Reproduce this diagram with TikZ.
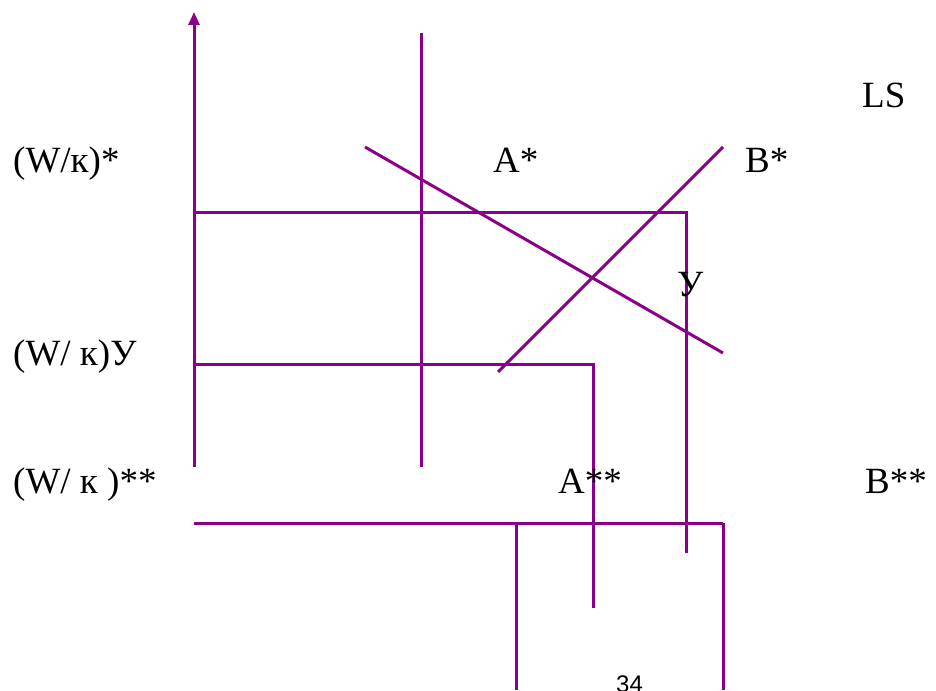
\documentclass[tikz,border=0pt]{standalone}
\usepackage{fontspec}
\setmainfont{Liberation Serif}
\usetikzlibrary{arrows.meta}
\definecolor{lnc}{RGB}{139,0,139}
\tikzset{
  ln/.style={draw=lnc, line width=3pt},
  lbl/.style={anchor=base west, inner sep=0pt, font=\fontsize{37}{42}\selectfont},
}
\begin{document}
\begin{tikzpicture}[x=1pt,y=-1pt]
\useasboundingbox (0,0) rectangle (936,690);
% axis
\draw[ln,-{Triangle[length=13pt,width=11pt]}] (194,467) -- (194,12);
\draw[ln] (421,33) -- (421,467);
% crossing lines
\draw[ln] (365,147) -- (723,353);
\draw[ln] (498,372) -- (723,147);
% levels
\draw[ln] (194,212) -- (686,212) -- (686,553);
\draw[ln] (194,364) -- (593,364) -- (593,608);
\draw[ln] (194,523) -- (723,523);
\draw[ln] (516,523) -- (516,690);
\draw[ln] (723,523) -- (723,690);
% labels
\node[lbl] (ls) at (862,108) {LS};
\node[lbl] (w1) at (13,172) {(W/к)*};
\node[lbl] (a1) at (493,172) {A*};
\node[lbl] (b1) at (745,172) {B*};
\node[lbl] (y) at (677,296) {У};
\node[lbl] (w2) at (13,365) {(W/ к)У};
\node[lbl] (w3) at (13,493) {(W/ к )**};
\node[lbl] (a2) at (558,493) {A**};
\node[lbl] (b2) at (865,493) {B**};
\node[anchor=base west, inner sep=0pt, font=\fontsize{24}{28}\selectfont\fontspec{Liberation Sans}] (pg) at (616,692) {34};
\end{tikzpicture}
\end{document}
